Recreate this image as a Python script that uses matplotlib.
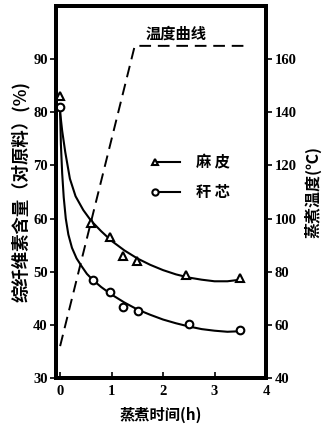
import matplotlib
matplotlib.use('Agg')
import matplotlib.pyplot as plt

plt.rcParams['font.family'] = ['Noto Sans CJK SC', 'DejaVu Sans']

# measured points (cooking time h, holocellulose %)
t_mapi = [0, 0.6, 0.97, 1.22, 1.5, 2.45, 3.5]
v_mapi = [83, 59.2, 56.6, 53.0, 52.1, 49.4, 48.9]
t_ganxin = [0, 0.63, 0.97, 1.22, 1.52, 2.5, 3.5]
v_ganxin = [81, 48.4, 46.2, 43.4, 42.6, 40.2, 39.0]

c_mapi_t = [0, 0.04, 0.1, 0.19, 0.3, 0.45, 0.6, 0.8, 1.0, 1.25, 1.5, 1.75, 2.0, 2.25,
            2.5, 2.75, 3.0, 3.25, 3.5]
c_mapi_v = [80, 76.5, 72.5, 67.5, 64.2, 61.6, 59.6, 57.6, 55.8, 54.0, 52.5, 51.3, 50.3, 49.5,
            48.9, 48.5, 48.2, 48.2, 48.5]
c_gan_t = [0, 0.015, 0.04, 0.07, 0.11, 0.16, 0.23, 0.32, 0.42, 0.52, 0.63, 0.8, 1.0, 1.25,
           1.5, 1.75, 2.0, 2.25, 2.5, 2.75, 3.0, 3.25, 3.5]
c_gan_v = [80, 74, 68.5, 64, 60, 57, 54.5, 52.5, 51.0, 49.6, 48.5, 47.1, 45.7, 44.2,
           42.9, 41.9, 41.0, 40.3, 39.7, 39.2, 38.9, 38.7, 38.8]

# temperature program (h, degC)
temp_t = [0, 1.45, 3.6]
temp_v = [52, 165, 165]

x_ticks = [0, 1, 2, 3, 4]
left_ticks = [30, 40, 50, 60, 70, 80, 90]
right_ticks = [40, 60, 80, 100, 120, 140, 160]

num_font = dict(family='Liberation Serif', weight='bold', size=10.5)

fig = plt.figure(figsize=(3.28, 4.24), dpi=100)
ax = fig.add_axes([56 / 328, 46 / 424, 210 / 328, 372 / 424])
ax2 = ax.twinx()

ax.plot(c_mapi_t, c_mapi_v, color='black', lw=1.5)
ax.plot(c_gan_t, c_gan_v, color='black', lw=1.5)
ax.plot(t_mapi, v_mapi, linestyle='none', marker='^', ms=6, mfc='white',
        mec='black', mew=1.5, clip_on=False, zorder=5)
ax.plot(t_ganxin, v_ganxin, linestyle='none', marker='o', ms=5.5, mfc='white',
        mec='black', mew=1.5, clip_on=False, zorder=5)

ax2.plot(temp_t, temp_v, color='black', lw=1.4, linestyle=(0, (6, 3.5)))

ax.set_xlim(-0.08, 4.0)
ax.set_ylim(30, 100)
ax2.set_ylim(40, 180)
ax.set_xticks(x_ticks)
ax.set_yticks(left_ticks)
ax2.set_yticks(right_ticks)

for a in (ax, ax2):
    for s in a.spines.values():
        s.set_linewidth(2.8)
ax.tick_params(axis='x', direction='in', length=4, width=1.2, pad=5)
ax.tick_params(axis='y', direction='out', length=4, width=1.2, pad=2)
ax2.tick_params(axis='y', direction='out', length=4, width=1.2, pad=2)
for lab in ax.get_xticklabels() + ax.get_yticklabels() + ax2.get_yticklabels():
    lab.set_fontfamily(num_font['family'])
    lab.set_fontweight(num_font['weight'])
    lab.set_fontsize(num_font['size'])

ax.set_xlabel('蒸煮时间(h)', fontsize=11, fontweight='bold', labelpad=6)
ax.set_ylabel('综纤维素含量（对原料）(%)', fontsize=12.5, fontweight='bold', labelpad=2)
ax2.set_ylabel('蒸煮温度(℃)', fontsize=11.5, fontweight='bold', labelpad=6)

# legend keys drawn by hand: marker at the left end of a short line
ax.plot([0.47, 0.59], [0.58, 0.58], color='black', lw=1.5, transform=ax.transAxes)
ax.plot([0.47], [0.58], marker='^', ms=5, mfc='white', mec='black', mew=1.5,
        transform=ax.transAxes)
ax.text(0.665, 0.58, '麻 皮', fontsize=11, fontweight='bold', va='center',
        transform=ax.transAxes)
ax.plot([0.47, 0.59], [0.50, 0.50], color='black', lw=1.5, transform=ax.transAxes)
ax.plot([0.47], [0.50], marker='o', ms=4.5, mfc='white', mec='black', mew=1.5,
        transform=ax.transAxes)
ax.text(0.665, 0.50, '秆 芯', fontsize=11, fontweight='bold', va='center',
        transform=ax.transAxes)

ax.text(0.57, 0.925, '温度曲线', fontsize=11, fontweight='bold', ha='center',
        va='center', transform=ax.transAxes)

fig.savefig('out.png', dpi=100)
